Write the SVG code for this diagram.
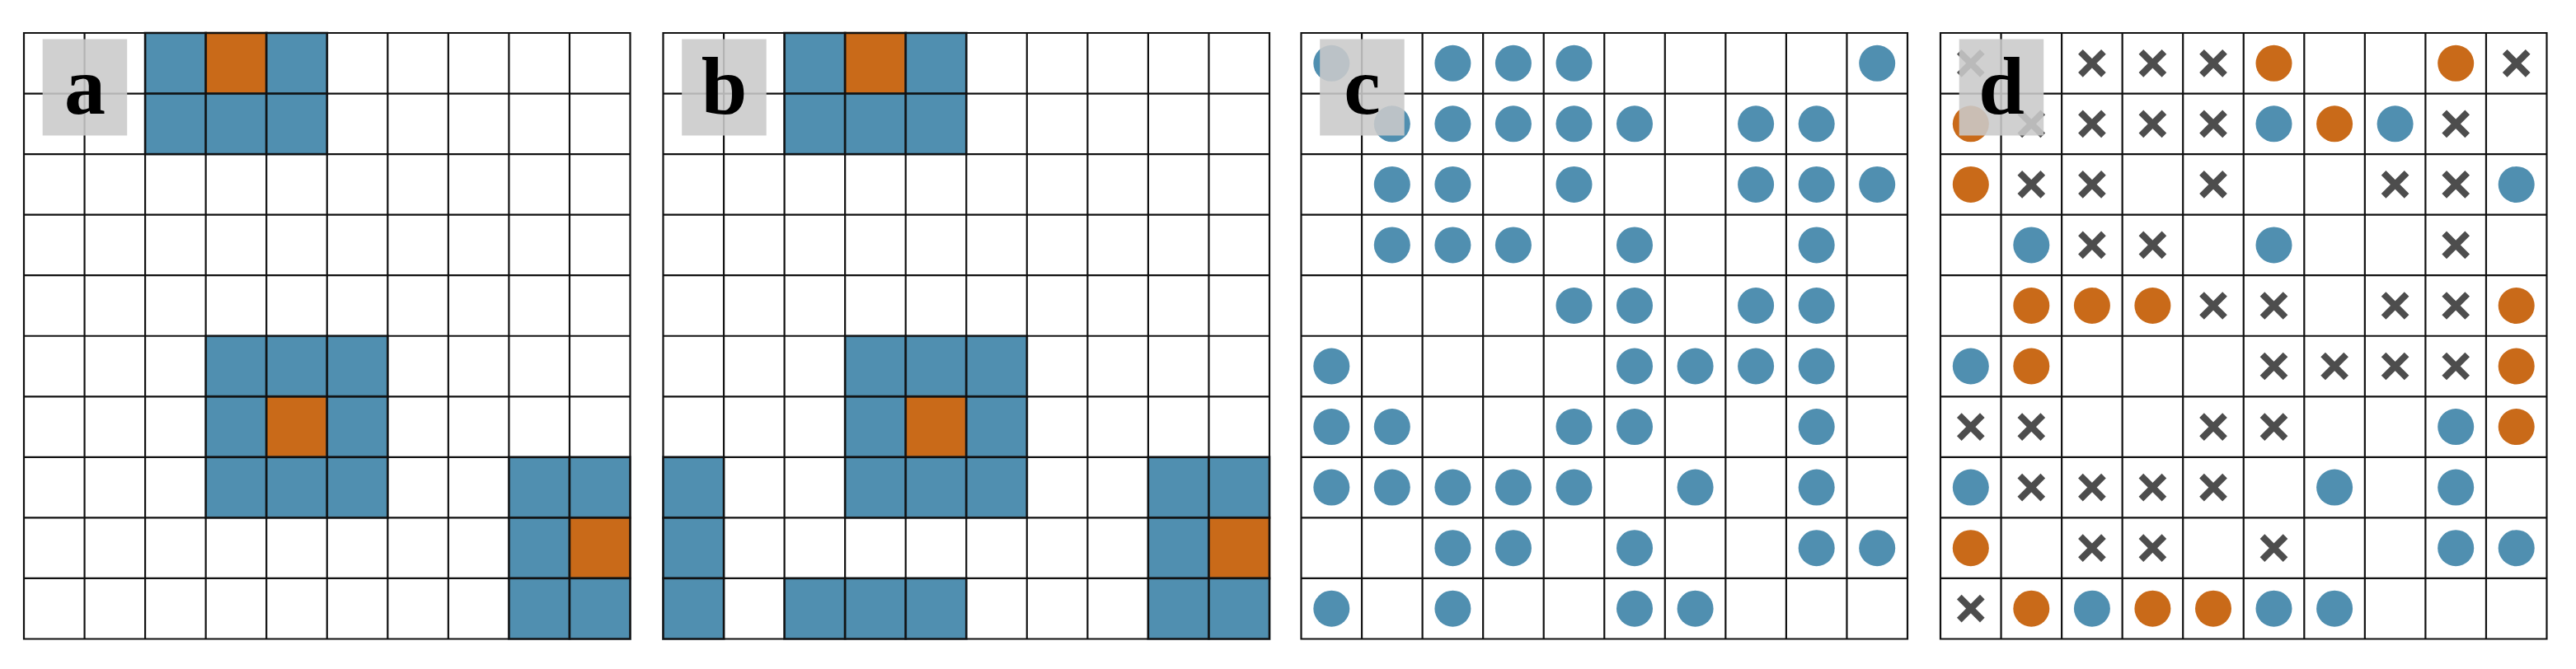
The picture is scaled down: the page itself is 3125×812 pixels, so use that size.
<svg xmlns="http://www.w3.org/2000/svg" xmlns:xlink="http://www.w3.org/1999/xlink" width="3125" height="812" viewBox="0 0 3125 812">
<style>
.bg{fill:#ffffff}
.cb{fill:#508fb0;stroke:#1f3340;stroke-opacity:0.6;stroke-width:3}
.co{fill:#c96a19;stroke:#3a2008;stroke-opacity:0.6;stroke-width:3}
.grid{fill:none;stroke:#111111;stroke-width:2.2}
.lblbox{fill:#cacaca;fill-opacity:0.88}
.lbl{font-family:"Liberation Serif","DejaVu Serif",serif;font-weight:bold;font-size:100px;fill:#000000;text-anchor:middle}
</style>
<defs>
<circle id="b" r="22" fill="#508fb0"/>
<circle id="o" r="22" fill="#c96a19"/>
<path id="x" d="M-14,-14L14,14M14,-14L-14,14" fill="none" stroke="#4d4d4d" stroke-width="8"/>
<path id="g" class="grid" d="M0,0H735.5V735.5H0Z M73.55,0V735.5 M147.1,0V735.5 M220.65,0V735.5 M294.2,0V735.5 M367.75,0V735.5 M441.3,0V735.5 M514.85,0V735.5 M588.4,0V735.5 M661.95,0V735.5 M0,73.55H735.5 M0,147.1H735.5 M0,220.65H735.5 M0,294.2H735.5 M0,367.75H735.5 M0,441.3H735.5 M0,514.85H735.5 M0,588.4H735.5 M0,661.95H735.5"/>
</defs>
<rect width="3125" height="812" fill="#ffffff"/>

<g id="panel-a" transform="translate(29,40)">
<rect class="bg" width="735.5" height="735.5"/>
<rect class="cb" x="147.1" y="0" width="73.55" height="73.55"/>
<rect class="co" x="220.65" y="0" width="73.55" height="73.55"/>
<rect class="cb" x="294.2" y="0" width="73.55" height="73.55"/>
<rect class="cb" x="147.1" y="73.55" width="73.55" height="73.55"/>
<rect class="cb" x="220.65" y="73.55" width="73.55" height="73.55"/>
<rect class="cb" x="294.2" y="73.55" width="73.55" height="73.55"/>
<rect class="cb" x="220.65" y="367.75" width="73.55" height="73.55"/>
<rect class="cb" x="294.2" y="367.75" width="73.55" height="73.55"/>
<rect class="cb" x="367.75" y="367.75" width="73.55" height="73.55"/>
<rect class="cb" x="220.65" y="441.3" width="73.55" height="73.55"/>
<rect class="co" x="294.2" y="441.3" width="73.55" height="73.55"/>
<rect class="cb" x="367.75" y="441.3" width="73.55" height="73.55"/>
<rect class="cb" x="220.65" y="514.85" width="73.55" height="73.55"/>
<rect class="cb" x="294.2" y="514.85" width="73.55" height="73.55"/>
<rect class="cb" x="367.75" y="514.85" width="73.55" height="73.55"/>
<rect class="cb" x="588.4" y="514.85" width="73.55" height="73.55"/>
<rect class="cb" x="661.95" y="514.85" width="73.55" height="73.55"/>
<rect class="cb" x="588.4" y="588.4" width="73.55" height="73.55"/>
<rect class="co" x="661.95" y="588.4" width="73.55" height="73.55"/>
<rect class="cb" x="588.4" y="661.95" width="73.55" height="73.55"/>
<rect class="cb" x="661.95" y="661.95" width="73.55" height="73.55"/>
<use href="#g"/>
<rect class="lblbox" x="22.7" y="7.5" width="102.5" height="117"/>
<text class="lbl" x="74" y="98">a</text>
</g>

<g id="panel-b" transform="translate(804.5,40)">
<rect class="bg" width="735.5" height="735.5"/>
<rect class="cb" x="147.1" y="0" width="73.55" height="73.55"/>
<rect class="co" x="220.65" y="0" width="73.55" height="73.55"/>
<rect class="cb" x="294.2" y="0" width="73.55" height="73.55"/>
<rect class="cb" x="147.1" y="73.55" width="73.55" height="73.55"/>
<rect class="cb" x="220.65" y="73.55" width="73.55" height="73.55"/>
<rect class="cb" x="294.2" y="73.55" width="73.55" height="73.55"/>
<rect class="cb" x="220.65" y="367.75" width="73.55" height="73.55"/>
<rect class="cb" x="294.2" y="367.75" width="73.55" height="73.55"/>
<rect class="cb" x="367.75" y="367.75" width="73.55" height="73.55"/>
<rect class="cb" x="220.65" y="441.3" width="73.55" height="73.55"/>
<rect class="co" x="294.2" y="441.3" width="73.55" height="73.55"/>
<rect class="cb" x="367.75" y="441.3" width="73.55" height="73.55"/>
<rect class="cb" x="0" y="514.85" width="73.55" height="73.55"/>
<rect class="cb" x="220.65" y="514.85" width="73.55" height="73.55"/>
<rect class="cb" x="294.2" y="514.85" width="73.55" height="73.55"/>
<rect class="cb" x="367.75" y="514.85" width="73.55" height="73.55"/>
<rect class="cb" x="588.4" y="514.85" width="73.55" height="73.55"/>
<rect class="cb" x="661.95" y="514.85" width="73.55" height="73.55"/>
<rect class="cb" x="0" y="588.4" width="73.55" height="73.55"/>
<rect class="cb" x="588.4" y="588.4" width="73.55" height="73.55"/>
<rect class="co" x="661.95" y="588.4" width="73.55" height="73.55"/>
<rect class="cb" x="0" y="661.95" width="73.55" height="73.55"/>
<rect class="cb" x="147.1" y="661.95" width="73.55" height="73.55"/>
<rect class="cb" x="220.65" y="661.95" width="73.55" height="73.55"/>
<rect class="cb" x="294.2" y="661.95" width="73.55" height="73.55"/>
<rect class="cb" x="588.4" y="661.95" width="73.55" height="73.55"/>
<rect class="cb" x="661.95" y="661.95" width="73.55" height="73.55"/>
<use href="#g"/>
<rect class="lblbox" x="22.7" y="7.5" width="102.5" height="117"/>
<text class="lbl" x="74" y="98">b</text>
</g>

<g id="panel-c" transform="translate(1578.5,40)">
<rect class="bg" width="735.5" height="735.5"/>
<use href="#g"/>
<use href="#b" x="36.8" y="36.8"/><use href="#b" x="183.9" y="36.8"/><use href="#b" x="257.4" y="36.8"/><use href="#b" x="331" y="36.8"/><use href="#b" x="698.7" y="36.8"/>
<use href="#b" x="110.3" y="110.3"/><use href="#b" x="183.9" y="110.3"/><use href="#b" x="257.4" y="110.3"/><use href="#b" x="331" y="110.3"/><use href="#b" x="404.5" y="110.3"/><use href="#b" x="551.6" y="110.3"/><use href="#b" x="625.2" y="110.3"/>
<use href="#b" x="110.3" y="183.9"/><use href="#b" x="183.9" y="183.9"/><use href="#b" x="331" y="183.9"/><use href="#b" x="551.6" y="183.9"/><use href="#b" x="625.2" y="183.9"/><use href="#b" x="698.7" y="183.9"/>
<use href="#b" x="110.3" y="257.4"/><use href="#b" x="183.9" y="257.4"/><use href="#b" x="257.4" y="257.4"/><use href="#b" x="404.5" y="257.4"/><use href="#b" x="625.2" y="257.4"/>
<use href="#b" x="331" y="331"/><use href="#b" x="404.5" y="331"/><use href="#b" x="551.6" y="331"/><use href="#b" x="625.2" y="331"/>
<use href="#b" x="36.8" y="404.5"/><use href="#b" x="404.5" y="404.5"/><use href="#b" x="478.1" y="404.5"/><use href="#b" x="551.6" y="404.5"/><use href="#b" x="625.2" y="404.5"/>
<use href="#b" x="36.8" y="478.1"/><use href="#b" x="110.3" y="478.1"/><use href="#b" x="331" y="478.1"/><use href="#b" x="404.5" y="478.1"/><use href="#b" x="625.2" y="478.1"/>
<use href="#b" x="36.8" y="551.6"/><use href="#b" x="110.3" y="551.6"/><use href="#b" x="183.9" y="551.6"/><use href="#b" x="257.4" y="551.6"/><use href="#b" x="331" y="551.6"/><use href="#b" x="478.1" y="551.6"/><use href="#b" x="625.2" y="551.6"/>
<use href="#b" x="183.9" y="625.2"/><use href="#b" x="257.4" y="625.2"/><use href="#b" x="404.5" y="625.2"/><use href="#b" x="625.2" y="625.2"/><use href="#b" x="698.7" y="625.2"/>
<use href="#b" x="36.8" y="698.7"/><use href="#b" x="183.9" y="698.7"/><use href="#b" x="404.5" y="698.7"/><use href="#b" x="478.1" y="698.7"/>
<rect class="lblbox" x="22.7" y="7.5" width="102.5" height="117"/>
<text class="lbl" x="74" y="98">c</text>
</g>

<g id="panel-d" transform="translate(2354,40)">
<rect class="bg" width="735.5" height="735.5"/>
<use href="#g"/>
<use href="#x" x="36.8" y="36.8"/><use href="#x" x="183.9" y="36.8"/><use href="#x" x="257.4" y="36.8"/><use href="#x" x="331" y="36.8"/><use href="#o" x="404.5" y="36.8"/><use href="#o" x="625.2" y="36.8"/><use href="#x" x="698.7" y="36.8"/>
<use href="#o" x="36.8" y="110.3"/><use href="#x" x="110.3" y="110.3"/><use href="#x" x="183.9" y="110.3"/><use href="#x" x="257.4" y="110.3"/><use href="#x" x="331" y="110.3"/><use href="#b" x="404.5" y="110.3"/><use href="#o" x="478.1" y="110.3"/><use href="#b" x="551.6" y="110.3"/><use href="#x" x="625.2" y="110.3"/>
<use href="#o" x="36.8" y="183.9"/><use href="#x" x="110.3" y="183.9"/><use href="#x" x="183.9" y="183.9"/><use href="#x" x="331" y="183.9"/><use href="#x" x="551.6" y="183.9"/><use href="#x" x="625.2" y="183.9"/><use href="#b" x="698.7" y="183.9"/>
<use href="#b" x="110.3" y="257.4"/><use href="#x" x="183.9" y="257.4"/><use href="#x" x="257.4" y="257.4"/><use href="#b" x="404.5" y="257.4"/><use href="#x" x="625.2" y="257.4"/>
<use href="#o" x="110.3" y="331"/><use href="#o" x="183.9" y="331"/><use href="#o" x="257.4" y="331"/><use href="#x" x="331" y="331"/><use href="#x" x="404.5" y="331"/><use href="#x" x="551.6" y="331"/><use href="#x" x="625.2" y="331"/><use href="#o" x="698.7" y="331"/>
<use href="#b" x="36.8" y="404.5"/><use href="#o" x="110.3" y="404.5"/><use href="#x" x="404.5" y="404.5"/><use href="#x" x="478.1" y="404.5"/><use href="#x" x="551.6" y="404.5"/><use href="#x" x="625.2" y="404.5"/><use href="#o" x="698.7" y="404.5"/>
<use href="#x" x="36.8" y="478.1"/><use href="#x" x="110.3" y="478.1"/><use href="#x" x="331" y="478.1"/><use href="#x" x="404.5" y="478.1"/><use href="#b" x="625.2" y="478.1"/><use href="#o" x="698.7" y="478.1"/>
<use href="#b" x="36.8" y="551.6"/><use href="#x" x="110.3" y="551.6"/><use href="#x" x="183.9" y="551.6"/><use href="#x" x="257.4" y="551.6"/><use href="#x" x="331" y="551.6"/><use href="#b" x="478.1" y="551.6"/><use href="#b" x="625.2" y="551.6"/>
<use href="#o" x="36.8" y="625.2"/><use href="#x" x="183.9" y="625.2"/><use href="#x" x="257.4" y="625.2"/><use href="#x" x="404.5" y="625.2"/><use href="#b" x="625.2" y="625.2"/><use href="#b" x="698.7" y="625.2"/>
<use href="#x" x="36.8" y="698.7"/><use href="#o" x="110.3" y="698.7"/><use href="#b" x="183.9" y="698.7"/><use href="#o" x="257.4" y="698.7"/><use href="#o" x="331" y="698.7"/><use href="#b" x="404.5" y="698.7"/><use href="#b" x="478.1" y="698.7"/>
<rect class="lblbox" x="22.7" y="7.5" width="102.5" height="117"/>
<text class="lbl" x="74" y="98">d</text>
</g>

<g id="connectors"></g>
</svg>
